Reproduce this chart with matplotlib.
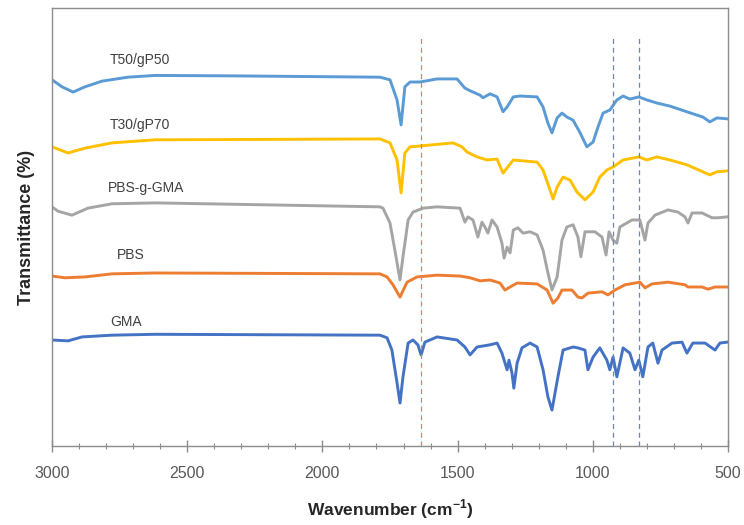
import numpy as np
import matplotlib
matplotlib.use("Agg")
import matplotlib.pyplot as plt
from matplotlib.ticker import MultipleLocator

plt.rcParams['font.family'] = ['Liberation Sans', 'DejaVu Sans']

# spectra: (wavenumber cm-1, transmittance % with stacking offset)
t50_gp50 = [(3000, 83.6), (2963, 82.0), (2922, 80.8), (2878, 82.0), (2815, 83.3),
            (2719, 84.2), (2619, 84.6), (2331, 84.5),
            (1787, 84.2), (1750, 83.6), (1724, 79.0), (1709, 73.3), (1695, 82.0),
            (1676, 83.1), (1639, 83.1), (1576, 83.8), (1502, 83.8), (1473, 81.7),
            (1454, 81.1), (1417, 80.1), (1406, 79.5), (1380, 80.4), (1354, 79.7),
            (1332, 76.3), (1317, 77.4), (1294, 79.7), (1269, 79.9), (1206, 79.7),
            (1184, 77.4), (1166, 73.7), (1151, 71.5), (1132, 74.9), (1114, 76.0),
            (1096, 75.1), (1073, 74.4), (1047, 71.5), (1022, 68.3), (999, 69.4),
            (981, 72.8), (962, 76.0), (937, 76.7), (911, 79.0), (888, 79.9),
            (863, 79.2), (830, 79.7), (800, 79.0), (763, 78.3), (715, 77.6),
            (652, 76.3), (593, 75.1), (567, 74.0), (541, 74.9), (504, 74.7)]

t30_gp70 = [(3000, 68.3), (2941, 66.9), (2878, 68.0), (2778, 69.2), (2619, 69.9),
            (1787, 70.1),
            (1750, 69.2), (1724, 65.3), (1709, 57.8), (1695, 66.9), (1676, 68.3),
            (1639, 68.5), (1517, 69.2), (1484, 68.3), (1465, 67.1), (1428, 66.0),
            (1391, 65.3), (1354, 65.5), (1332, 62.3), (1317, 63.5), (1294, 65.3),
            (1206, 64.8), (1184, 63.0), (1158, 58.4), (1147, 56.4), (1132, 59.1),
            (1110, 61.4), (1084, 60.7), (1059, 58.0), (1029, 56.2), (999, 58.0),
            (974, 61.4), (948, 63.0), (925, 63.7), (888, 65.3), (830, 66.0),
            (800, 65.3), (763, 66.0), (715, 65.3), (652, 64.2), (593, 62.6),
            (567, 61.9), (541, 62.6), (504, 62.8)]

pbs_g_gma = [(3000, 54.6), (2978, 53.6), (2926, 52.7), (2867, 54.3), (2778, 55.3),
             (2619, 55.5), (1787, 54.6),
             (1776, 54.3), (1750, 50.9), (1732, 44.7), (1713, 37.9), (1702, 43.2),
             (1683, 51.6), (1665, 53.4), (1628, 54.3), (1576, 54.6), (1491, 54.3),
             (1473, 51.1), (1462, 52.3), (1443, 51.6), (1425, 47.7), (1410, 51.1),
             (1399, 50.0), (1388, 48.6), (1373, 51.6), (1354, 50.0), (1336, 46.3),
             (1328, 42.9), (1317, 45.4), (1306, 44.1), (1294, 49.3), (1277, 49.8),
             (1258, 48.6), (1232, 48.9), (1206, 48.2), (1184, 44.7), (1166, 39.5),
             (1151, 35.6), (1132, 38.6), (1114, 47.0), (1096, 50.0), (1073, 50.5),
             (1055, 47.7), (1044, 43.2), (1029, 48.9), (992, 48.9), (966, 47.7),
             (951, 43.6), (940, 48.9), (925, 47.0), (911, 46.3), (900, 50.0),
             (855, 51.6), (826, 51.6), (807, 47.0), (796, 50.9), (770, 52.7),
             (722, 53.9), (685, 53.4), (659, 52.3), (648, 50.9), (633, 53.2),
             (596, 53.2), (559, 52.1), (537, 52.1), (504, 52.3)]

pbs = [(3000, 38.8), (2952, 38.4), (2878, 38.6), (2778, 39.3), (2619, 39.5),
       (1787, 39.3), (1761, 38.6),
       (1739, 36.8), (1713, 34.0), (1687, 37.4), (1650, 38.6), (1576, 39.0),
       (1491, 38.8), (1454, 38.4), (1417, 37.7), (1380, 37.9), (1343, 37.2),
       (1325, 35.6), (1306, 36.3), (1280, 37.2), (1206, 37.0), (1169, 35.6),
       (1147, 32.6), (1129, 33.8), (1114, 35.6), (1077, 35.6), (1055, 34.0),
       (1040, 33.8), (1018, 34.9), (966, 35.2), (944, 34.5), (918, 35.6),
       (881, 36.8), (826, 37.4), (807, 36.1), (781, 37.0), (722, 37.4),
       (659, 36.8), (648, 36.3), (596, 36.3), (574, 35.8), (548, 36.3), (504, 36.3)]

gma = [(3000, 24.2), (2941, 24.0), (2889, 24.9), (2778, 25.3), (2619, 25.5),
       (1787, 25.3),
       (1761, 24.7), (1743, 21.9), (1724, 14.4), (1713, 9.8), (1702, 15.8),
       (1683, 23.5), (1665, 24.2), (1647, 23.1), (1635, 20.8), (1621, 23.7),
       (1576, 24.9), (1502, 24.2), (1473, 22.6), (1454, 20.8), (1428, 22.6),
       (1380, 23.1), (1354, 23.5), (1336, 21.2), (1317, 17.4), (1310, 19.6),
       (1299, 16.7), (1292, 13.2), (1280, 18.9), (1262, 22.4), (1232, 23.5),
       (1206, 22.6), (1184, 17.4), (1166, 11.2), (1151, 8.2), (1129, 15.8),
       (1110, 21.9), (1073, 22.6), (1055, 22.4), (1029, 21.9), (1018, 17.4),
       (999, 20.3), (974, 22.4), (948, 19.6), (937, 17.4), (925, 20.3),
       (911, 15.8), (888, 22.4), (863, 21.2), (844, 17.4), (830, 19.6),
       (815, 15.8), (796, 22.6), (778, 23.5), (759, 18.9), (744, 21.9),
       (707, 23.5), (670, 23.7), (652, 21.2), (630, 23.5), (585, 23.5),
       (548, 21.9), (530, 23.5), (504, 23.7)]

series_names = ['T50/gP50', 'T30/gP70', 'PBS-g-GMA', 'PBS', 'GMA']
series_data = [t50_gp50, t30_gp70, pbs_g_gma, pbs, gma]
series_colors = ['#5B9BD5', '#FFC000', '#A5A5A5', '#ED7D31', '#4472C4']
# where each name sits (wavenumber, transmittance)
label_pos = [(2785, 88.1), (2785, 73.3), (2795, 58.9), (2760, 43.6), (2785, 28.3)]

# marked bands: C=C and epoxide ring
band_red = [1637]
band_blue = [924, 828]

fig = plt.figure(figsize=(7.44, 5.25), dpi=100)
ax = fig.add_axes([0.0699, 0.1505, 0.9086, 0.8343])

for name, data, col, pos in zip(series_names, series_data, series_colors, label_pos):
    wn, tr = np.array(data).T
    ax.plot(wn, tr, color=col, lw=2.1, solid_joinstyle='round')
    ax.text(pos[0], pos[1], name, fontsize=10, color='#404040', va='center', ha='left')

for b in band_red:
    ax.axvline(b, ymin=0, ymax=0.938, color='#E07B7B', lw=0.9, ls=(0, (4, 3)))
for b in band_blue:
    ax.axvline(b, ymin=0, ymax=0.938, color='#6F86A8', lw=0.9, ls=(0, (4, 3)))

ax.set_xlim(3000, 500)
ax.set_ylim(0, 100)
ax.xaxis.set_major_locator(MultipleLocator(500))
ax.xaxis.set_minor_locator(MultipleLocator(100))
ax.tick_params(axis='x', which='major', direction='inout', length=9, width=1,
               color='#8C8C8C', labelsize=11.5, labelcolor='#595959', pad=10)
ax.tick_params(axis='x', which='minor', direction='inout', length=5, width=0.8,
               color='#8C8C8C')
ax.set_yticks([])
for sp in ax.spines.values():
    sp.set_color('#8C8C8C')
    sp.set_linewidth(1.0)

ax.set_xlabel('Wavenumber (cm$^{\\mathregular{-1}}$)', fontsize=12.5, fontweight='bold',
              color='#262626', labelpad=12)
ax.set_ylabel('Transmittance (%)', fontsize=13, fontweight='bold', color='#262626',
              labelpad=12)

fig.savefig('out.png', dpi=100)
